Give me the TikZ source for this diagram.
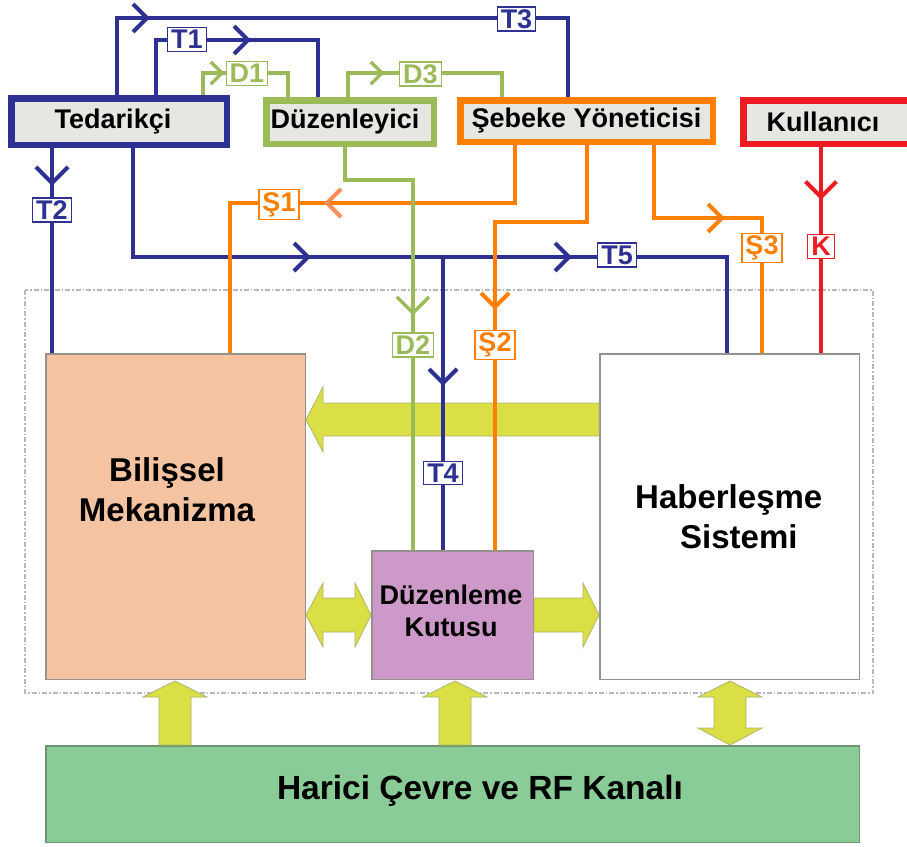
\documentclass[tikz,border=0pt]{standalone}
\usepackage{fontspec}
\setmainfont{Liberation Sans}
\usetikzlibrary{calc}
\definecolor{tblue}{RGB}{46,49,146}
\definecolor{dgreen}{RGB}{155,187,89}
\definecolor{sorange}{RGB}{255,128,0}
\definecolor{salmonarr}{RGB}{250,140,90}
\definecolor{kred}{RGB}{237,28,36}
\definecolor{boxgray}{RGB}{230,230,226}
\definecolor{bilfill}{RGB}{244,195,161}
\definecolor{duzfill}{RGB}{204,153,201}
\definecolor{envfill}{RGB}{137,204,152}
\definecolor{yarrow}{RGB}{217,223,68}
\definecolor{yedge}{RGB}{175,180,110}
\definecolor{blkedge}{RGB}{150,145,140}
\definecolor{frameedge}{RGB}{185,185,185}
\tikzset{
  chevR/.pic={\path[pic actions] (-14,-14) -- (0,0) -- (-14,14);},
  chevL/.pic={\path[pic actions] (14,-14) -- (0,0) -- (14,14);},
  chevD/.pic={\path[pic actions] (-14,-14) -- (0,0) -- (14,-14);},
  tl/.style={draw=tblue, line width=4},
  gl/.style={draw=dgreen, line width=3.5},
  ol/.style={draw=sorange, line width=4},
  rl/.style={draw=kred, line width=4},
  lab/.style={fill=white, line width=1.2, inner xsep=3.5, inner ysep=2.5,
    font=\fontsize{27}{27}\selectfont\bfseries},
  tlab/.style={lab, draw=tblue, text=tblue},
  glab/.style={lab, draw=dgreen, text=dgreen},
  olab/.style={lab, draw=sorange, text=sorange},
  rlab/.style={lab, draw=kred, text=kred},
  topbox/.style={fill=boxgray, line width=6.5, inner sep=0,
    font=\fontsize{27}{27}\selectfont\bfseries},
  blk/.style={draw=blkedge, line width=1.5, inner sep=0},
  bigtxt/.style={inner sep=0, font=\fontsize{33}{40}\selectfont\bfseries},
  yarr/.style={fill=yarrow, draw=yedge, line width=0.8},
  frameline/.style={draw=frameedge, line width=1.5, dash pattern=on 5pt off 2pt on 1.5pt off 2pt},
}
\begin{document}
\begin{tikzpicture}[x=1pt,y=-1pt]
\useasboundingbox (0,0) rectangle (907,846);
\fill[white] (0,0) rectangle (907,846);

% dashed frame
\draw[frameline] (25,290) rectangle (873,693);

% main blocks
\node[blk, fill=bilfill, minimum width=259.5, minimum height=325.5] (bil) at (175.5,516.5) {};
\node[bigtxt, align=center] (bilt) at (167,490) {Bilişsel\\Mekanizma};
\node[blk, fill=duzfill, minimum width=161.5, minimum height=128.5] (dk) at (452.5,615) {};
\node[inner sep=0, align=center, font=\fontsize{27}{32}\selectfont\bfseries] (dkt) at (451,611) {Düzenleme\\Kutusu};
\node[blk, fill=white, minimum width=259.5, minimum height=325.5] (hab) at (729.5,516.5) {};
\node[bigtxt, align=left, anchor=west] (habt) at (635,517) {Haberleşme\\\hspace*{45pt}Sistemi};
\node[draw={rgb,255:red,110;green,150;blue,110}, line width=1.5, inner sep=0, fill=envfill,
  minimum width=813.5, minimum height=96.5] (env) at (452.5,794) {};
\node[inner sep=0, font=\fontsize{33.5}{33.5}\selectfont\bfseries] (envt) at (480,791) {Harici Çevre ve RF Kanalı};

% block arrows
\draw[yarr] (599,403) -- (323,403) -- (323,387) -- (306,419.5) -- (323,452) -- (323,436) -- (599,436) -- cycle;
\draw[yarr] (306,615) -- (323,583) -- (323,598) -- (355,598) -- (355,583) -- (371,615)
  -- (355,647) -- (355,632) -- (323,632) -- (323,647) -- cycle;
\draw[yarr] (534,598) -- (583,598) -- (583,583) -- (599,615) -- (583,647) -- (583,632) -- (534,632) -- cycle;
\draw[yarr] (159,745) -- (159,697) -- (143,697) -- (175,681) -- (207,697) -- (191,697) -- (191,745) -- cycle;
\draw[yarr] (439,745) -- (439,697) -- (423,697) -- (455,681) -- (487,697) -- (471,697) -- (471,745) -- cycle;
\draw[yarr] (730,681) -- (762,697) -- (746,697) -- (746,728) -- (762,728) -- (730,745)
  -- (698,728) -- (714,728) -- (714,697) -- (698,697) -- cycle;

% top boxes
\node[topbox, draw=tblue, minimum width=215.5, minimum height=46.5] (ted) at (119,121.5) {\hspace*{-12pt}Tedarikçi};
\node[topbox, draw=dgreen, minimum width=167.5, minimum height=43.5] (duz) at (350,122) {\hspace*{-10pt}Düzenleyici};
\node[topbox, draw=sorange, minimum width=252.5, minimum height=41.5] (seb) at (586.5,121) {Şebeke Yöneticisi};
\node[topbox, draw=kred, minimum width=183.5, minimum height=43.5] (kul) at (835,122) {};
\node[inner sep=0, font=\fontsize{27}{27}\selectfont\bfseries] (kult) at (823,122) {Kullanıcı};

% corner coordinates
\coordinate (t3a) at (117,18);  \coordinate (t3b) at (568,18);
\coordinate (t1a) at (156,40);  \coordinate (t1b) at (318,40);
\coordinate (d1a) at (203,73);  \coordinate (d1b) at (288,73);
\coordinate (d3a) at (348,73);  \coordinate (d3b) at (502,73);
\coordinate (t2x) at (52,183);
\coordinate (t5a) at (133,257); \coordinate (t5b) at (727,257);
\coordinate (t4a) at (443,257);
\coordinate (d2a) at (345,180); \coordinate (d2b) at (413,180);
\coordinate (s1a) at (515,203); \coordinate (s1b) at (230,203);
\coordinate (s2a) at (587,222); \coordinate (s2b) at (495,222);
\coordinate (s3a) at (654,218); \coordinate (s3b) at (762,218);
\coordinate (ka) at (821,197);

% blue connectors
\draw[tl] (t3a |- ted.north) -- (t3a) -- (t3b) -- (t3b |- seb.north);
\draw[tl] (t1a |- ted.north) -- (t1a) -- (t1b) -- (t1b |- duz.north);
\draw[tl] (t2x |- ted.south) -- (t2x |- bil.north);
\draw[tl] (t5a |- ted.south) -- (t5a) -- (t5b) -- (t5b |- hab.north);
\draw[tl] (t4a) -- (t4a |- dk.north);
% orange connectors
\draw[ol] (s1a |- seb.south) -- (s1a) -- (s1b) -- (s1b |- bil.north);
\draw[ol] (s2a |- seb.south) -- (s2a) -- (s2b) -- (s2b |- dk.north);
\draw[ol] (s3a |- seb.south) -- (s3a) -- (s3b) -- (s3b |- hab.north);
% green connectors
\draw[gl] (d1a |- ted.north) -- (d1a) -- (d1b) -- (d1b |- duz.north);
\draw[gl] (d3a |- duz.north) -- (d3a) -- (d3b) -- (d3b |- seb.north);
\draw[gl] (d2a |- duz.south) -- (d2a) -- (d2b) -- (d2b |- dk.north);
% red connector
\draw[rl] (ka |- kul.south) -- (ka |- hab.north);

% chevrons
\pic[draw=tblue, line width=4] at (147,18) {chevR};
\pic[draw=tblue, line width=4] at (248,40) {chevR};
\pic[draw=dgreen, line width=3.5, scale=.8] at (222,73) {chevR};
\pic[draw=dgreen, line width=3.5, scale=.8] at (382,73) {chevR};
\pic[draw=tblue, line width=4, scale=1.15] at (52,183) {chevD};
\pic[draw=tblue, line width=4] at (308,257) {chevR};
\pic[draw=tblue, line width=4] at (569,257) {chevR};
\pic[draw=tblue, line width=4] at (443,383) {chevD};
\pic[draw=dgreen, line width=3.5, scale=1.15] at (413,313) {chevD};
\pic[draw=salmonarr, line width=4] at (327,203) {chevL};
\pic[draw=sorange, line width=4] at (495,307) {chevD};
\pic[draw=sorange, line width=4] at (722,218) {chevR};
\pic[draw=kred, line width=4, scale=1.1] at (821,197) {chevD};

% labels
\node[tlab] (lt3) at (516.5,19) {T3};
\node[tlab] (lt1) at (187,39.5) {T1};
\node[glab] (ld1) at (247,73.5) {D1};
\node[glab] (ld3) at (420.5,74) {D3};
\node[tlab] (lt2) at (52,210) {T2};
\node[olab] (ls1) at (279,204.5) {Ş1};
\node[glab] (ld2) at (413,345) {D2};
\node[olab] (ls2) at (495,345) {Ş2};
\node[tlab] (lt5) at (617,255) {T5};
\node[olab] (ls3) at (762,248) {Ş3};
\node[rlab] (lk) at (821,246.5) {K};
\node[tlab] (lt4) at (443,473) {T4};
\end{tikzpicture}
\end{document}
